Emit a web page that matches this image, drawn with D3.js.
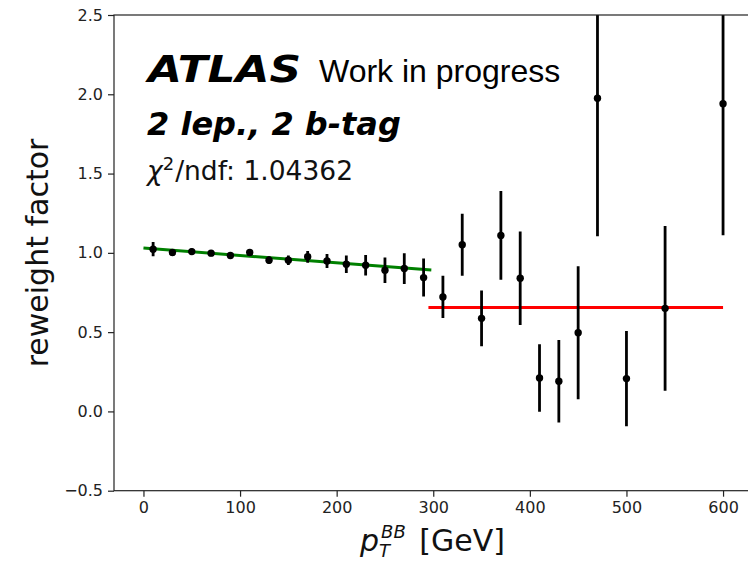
<!DOCTYPE html>
<html>
<head>
<meta charset="utf-8">
<script src="https://cdn.jsdelivr.net/npm/d3@7"></script>
<style>
  body { margin: 0; background: #fff; }
  svg { display: block; font-family: "DejaVu Sans", sans-serif; }
</style>
</head>
<body>
<svg id="chart" width="748" height="561"></svg>
<script>
var ptBins = [10, 30, 50, 70, 90, 110, 130, 150, 170, 190, 210, 230, 250, 270, 290,
              310, 330, 350, 370, 390, 410, 430, 450, 470, 500, 540, 600];
var factors = [1.023, 1.002, 1.008, 0.998, 0.983, 1.002, 0.954, 0.954, 0.975, 0.949,
               0.928, 0.922, 0.890, 0.901, 0.844,
               0.722, 1.051, 0.587, 1.110, 0.840, 0.211, 0.190, 0.496, 1.975, 0.207, 0.650, 1.941];
var errors = [0.045, 0.02, 0.02, 0.02, 0.02, 0.02, 0.025, 0.03, 0.037, 0.044,
              0.055, 0.065, 0.08, 0.097, 0.12,
              0.133, 0.195, 0.176, 0.28, 0.295, 0.213, 0.26, 0.42, 0.87, 0.30, 0.52, 0.83];

// fitted lines: linear below 300 GeV, flat above
var fitLow = [[0, 1.030], [298, 0.892]];
var fitHigh = [[295, 0.655], [600, 0.655]];

var xTicks = [0, 100, 200, 300, 400, 500, 600];
var yTicks = [-0.5, 0.0, 0.5, 1.0, 1.5, 2.0, 2.5];

var margin = {left: 114, top: 15, right: -5, bottom: 70};
var W = 748, H = 561;
var pw = W - margin.left - margin.right;
var ph = 490.7 - margin.top;

var svg = d3.select("#chart");

var x = d3.scaleLinear().domain([-30.5, 631]).range([0, pw]);
var y = d3.scaleLinear().domain([-0.5, 2.5]).range([ph, 0]);

var g = svg.append("g").attr("transform", "translate(" + margin.left + "," + margin.top + ")");

g.append("clipPath").attr("id", "clip")
  .append("rect").attr("width", pw).attr("height", ph);

var plot = g.append("g").attr("clip-path", "url(#clip)");

// fit lines
var line = d3.line().x(d => x(d[0])).y(d => y(d[1]));
plot.append("path").datum(fitLow).attr("d", line)
  .attr("stroke", "#008000").attr("stroke-width", 3).attr("fill", "none");
plot.append("path").datum(fitHigh).attr("d", line)
  .attr("stroke", "#ff0000").attr("stroke-width", 3).attr("fill", "none");

var pts = ptBins.map((b, i) => ({x: b, y: factors[i], e: errors[i]}));

// error bars
plot.selectAll("line.err").data(pts).enter().append("line")
  .attr("class", "err")
  .attr("x1", d => x(d.x)).attr("x2", d => x(d.x))
  .attr("y1", d => y(d.y - d.e)).attr("y2", d => y(d.y + d.e))
  .attr("stroke", "#000").attr("stroke-width", 2.8);

plot.selectAll("circle").data(pts).enter().append("circle")
  .attr("cx", d => x(d.x)).attr("cy", d => y(d.y)).attr("r", 3.7)
  .attr("fill", "#000");

// axes
var xAxis = g.append("g").attr("transform", "translate(0," + ph + ")")
  .call(d3.axisBottom(x).tickValues(xTicks).tickSize(6).tickPadding(5).tickFormat(d3.format("d")));
var yAxis = g.append("g")
  .call(d3.axisLeft(y).tickValues(yTicks).tickSize(6).tickPadding(5).tickFormat(d3.format(".1f")));
[xAxis, yAxis].forEach(a => {
  a.select(".domain").remove();
  a.selectAll("line").attr("stroke", "#222").attr("stroke-width", 1.2);
  a.selectAll("text").attr("font-size", 16).attr("fill", "#222")
    .style("font-family", "DejaVu Sans");
});

// spines
g.append("rect").attr("width", pw).attr("height", ph)
  .attr("fill", "none").attr("stroke", "#222").attr("stroke-width", 1.2);

// axis labels
svg.append("text").attr("transform", "translate(48,253) rotate(-90)")
  .attr("text-anchor", "middle").attr("font-size", 30).attr("fill", "#111")
  .text("reweight factor");

var xl = svg.append("text").attr("x", 360).attr("y", 551)
  .attr("font-size", 30).attr("fill", "#111");
xl.append("tspan").attr("font-style", "italic").text("p");
xl.append("tspan").attr("font-style", "italic").attr("font-size", 18)
  .attr("dy", 6).text("T");
xl.append("tspan").attr("font-style", "italic").attr("font-size", 18)
  .attr("dx", -9).attr("dy", -19).text("BB");
xl.append("tspan").attr("dy", 13).attr("dx", 4).text(" [GeV]");

// labels in the plot
svg.append("text").attr("x", 148).attr("y", 81.7)
  .attr("font-size", 37).attr("font-weight", "bold").attr("font-style", "italic")
  .attr("textLength", 153).attr("lengthAdjust", "spacingAndGlyphs")
  .attr("fill", "#000").text("ATLAS");
svg.append("text").attr("x", 319).attr("y", 81.7)
  .style("font-family", "'Liberation Sans', Arial, sans-serif")
  .attr("font-size", 32).attr("fill", "#000").text("Work in progress");
svg.append("text").attr("x", 147).attr("y", 135)
  .attr("font-size", 32).attr("font-weight", "bold").attr("font-style", "italic")
  .attr("fill", "#000").text("2 lep., 2 b-tag");

var chi = svg.append("text").attr("x", 147).attr("y", 180).attr("font-size", 26.5).attr("fill", "#111");
chi.append("tspan").attr("font-style", "italic").text("χ");
chi.append("tspan").attr("font-size", 18).attr("dy", -10).text("2");
chi.append("tspan").attr("dy", 10).attr("dx", 1).text("/ndf: 1.04362");
</script>
</body>
</html>
